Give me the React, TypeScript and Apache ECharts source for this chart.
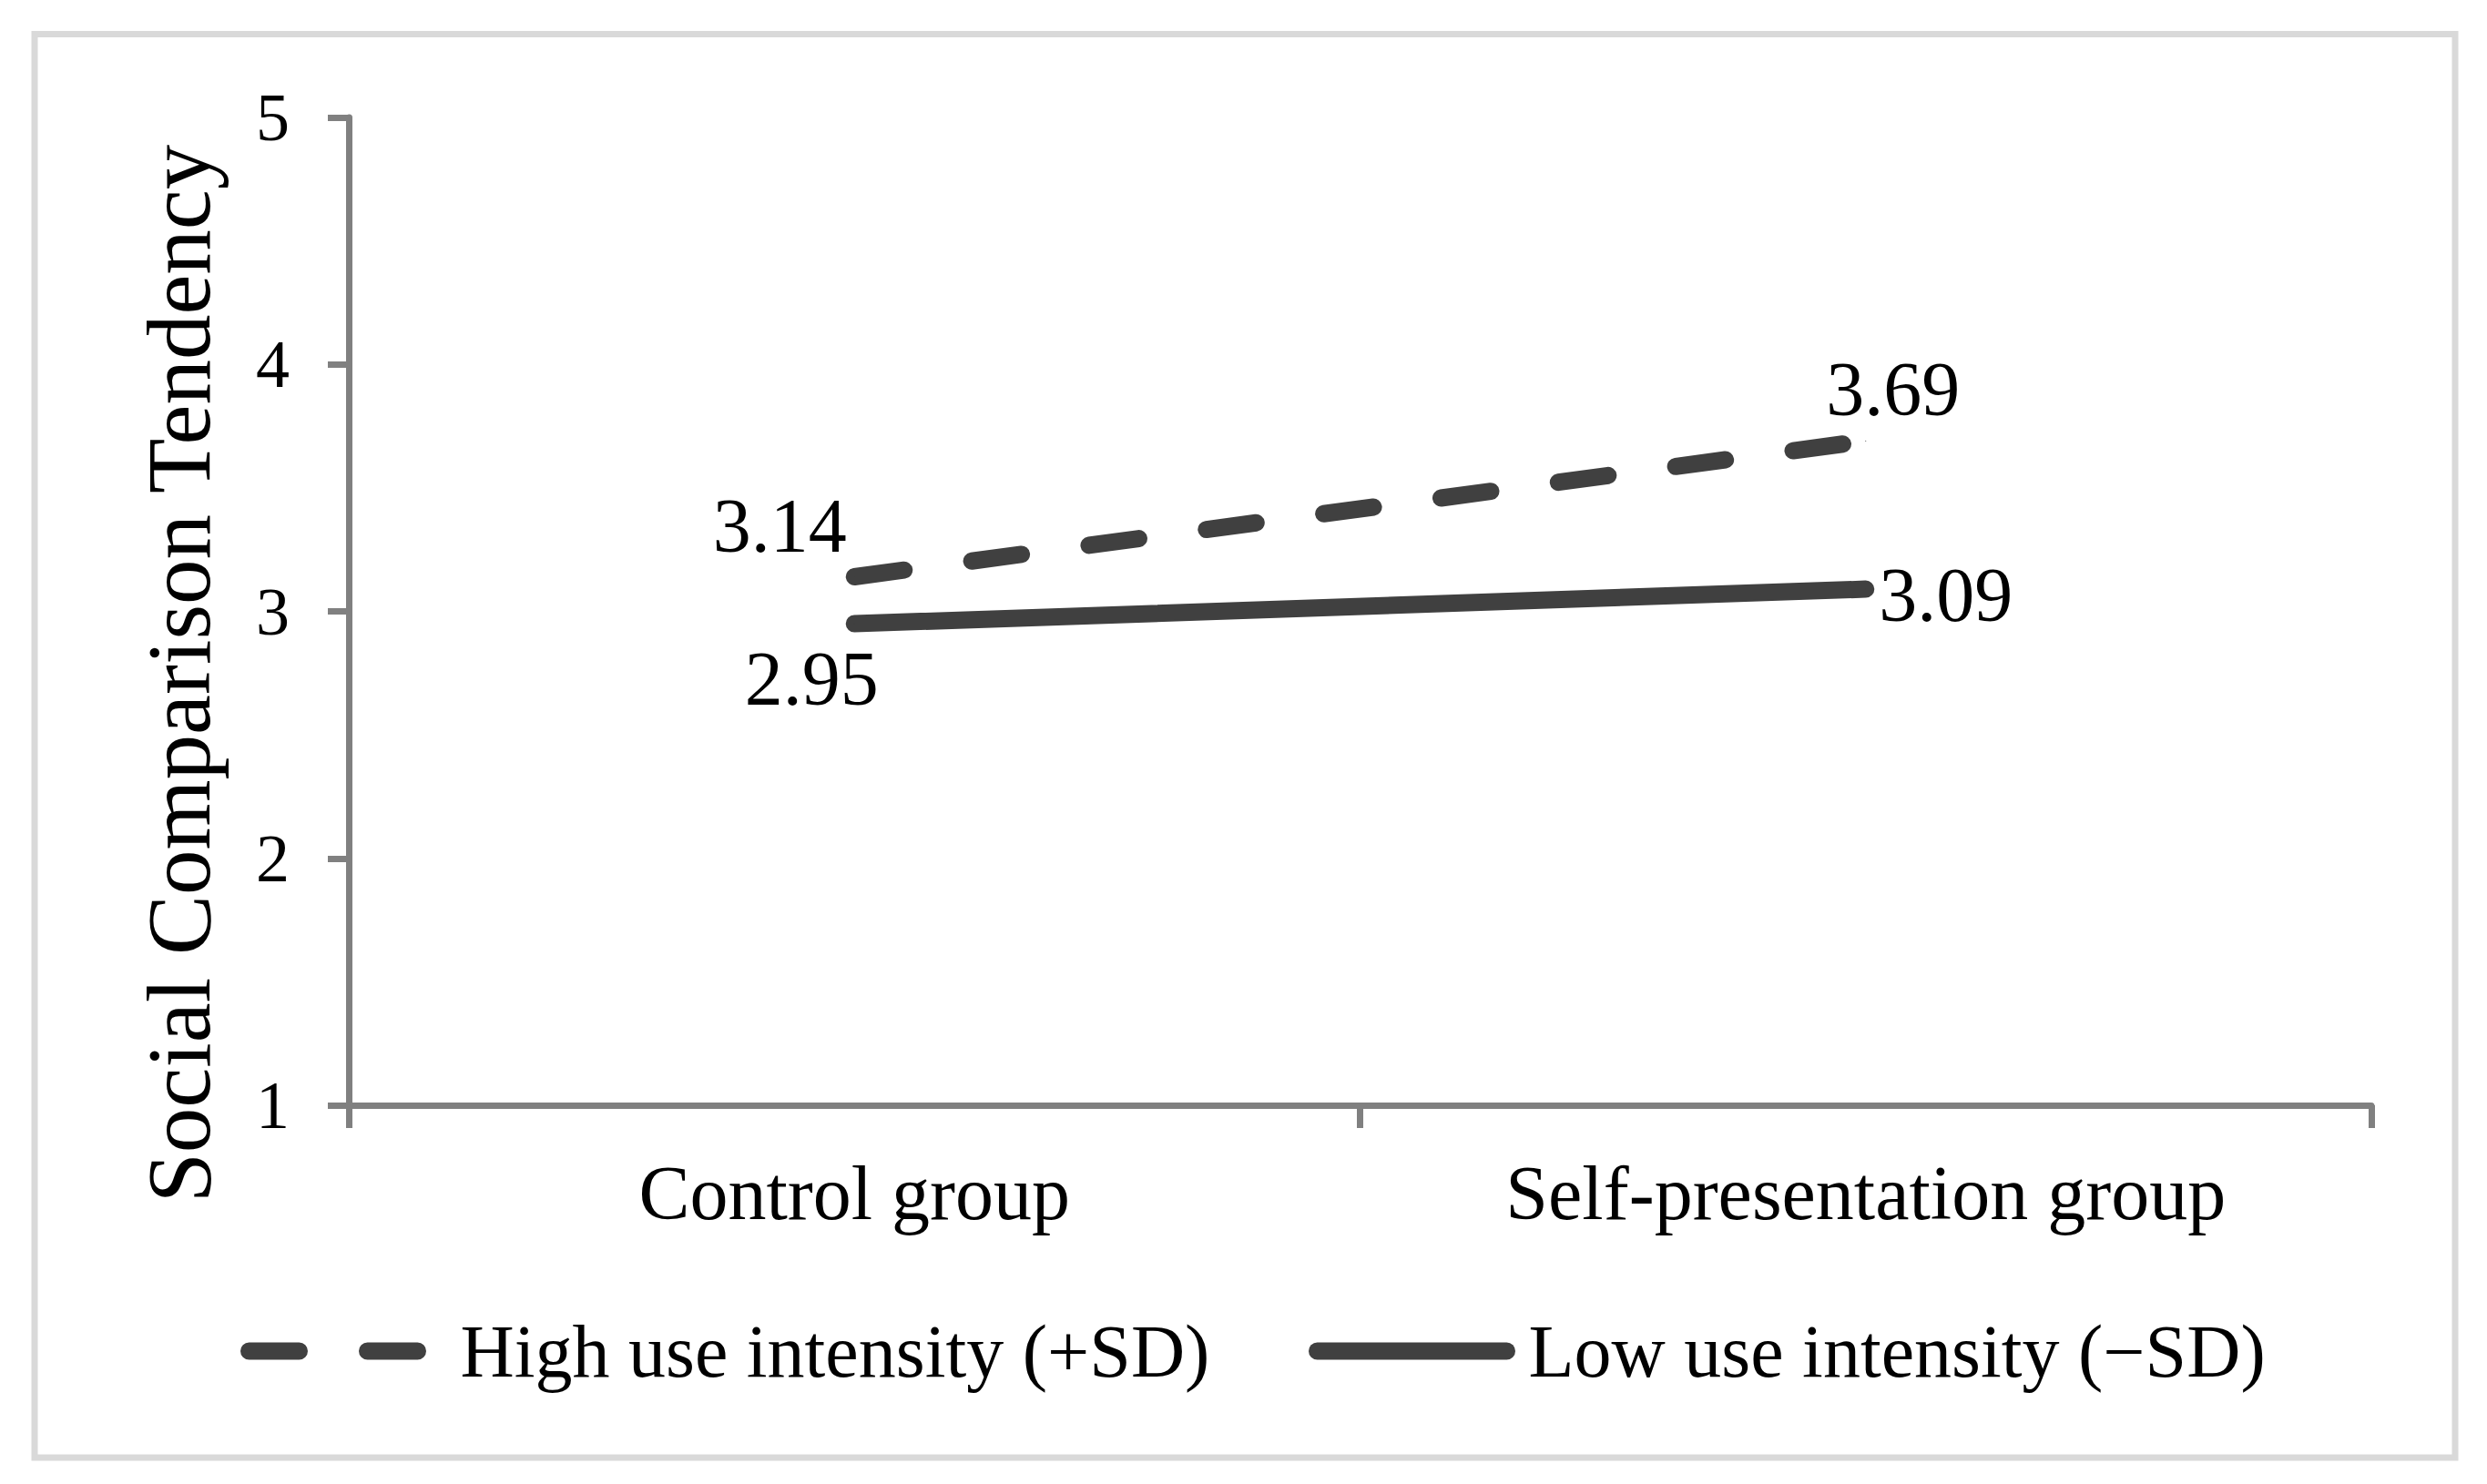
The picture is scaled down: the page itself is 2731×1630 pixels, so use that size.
import React, { useEffect, useRef } from "react";
import * as echarts from "echarts";

const categories = ["Control group", "Self-presentation group"];
const highSeriesName = "High use intensity (+SD)";
const lowSeriesName = "Low use intensity (\u2212SD)";
const highValues = [3.14, 3.69];
const lowValues = [2.95, 3.09];
const yMin = 1;
const yMax = 5;
const yInterval = 1;
const yAxisTitle = "Social Comparison Tendency";

// label placement (styling only)
const highLabelOffsets = [
  [-82, -56],
  [30, -57],
];
const lowLabelOffsets = [
  [-47, 60],
  [88, 6],
];

const FONT = "'Liberation Serif', 'Times New Roman', serif";
const LINE_COLOR = "#404040";
const AXIS_COLOR = "#808080";

export default function App() {
  const ref = useRef<HTMLDivElement>(null);

  useEffect(() => {
    if (!ref.current) return;
    const chart = echarts.init(ref.current, undefined, { renderer: "svg" });

    const makeData = (vals: number[], offs: number[][]) =>
      vals.map((v, i) => ({
        value: v,
        label: {
          show: true,
          position: "inside",
          offset: offs[i],
          align: "center",
          verticalAlign: "middle",
          color: "#000",
          fontFamily: FONT,
          fontSize: 84,
        },
      }));

    const legendCommon = {
      orient: "horizontal",
      itemWidth: 208,
      itemHeight: 20,
      selectedMode: false,
      textStyle: {
        color: "#000",
        fontFamily: FONT,
        fontSize: 82,
        padding: [0, 0, 0, 19],
      },
      itemStyle: { opacity: 0 },
      lineStyle: { width: 19, cap: "round" },
    };

    chart.setOption({
      animation: false,
      backgroundColor: "#ffffff",
      grid: {
        left: 383,
        right: 127,
        top: 129,
        bottom: 416,
        containLabel: false,
      },
      legend: [
        {
          ...legendCommon,
          data: [highSeriesName],
          left: 259,
          top: 1438,
        },
        {
          ...legendCommon,
          data: [lowSeriesName],
          left: 1432,
          top: 1438,
        },
      ],
      xAxis: {
        type: "category",
        data: categories,
        boundaryGap: true,
        axisLine: { lineStyle: { color: AXIS_COLOR, width: 7 } },
        axisTick: {
          show: true,
          length: 25,
          lineStyle: { color: AXIS_COLOR, width: 7 },
        },
        axisLabel: {
          color: "#000",
          fontFamily: FONT,
          fontSize: 84,
          margin: 54,
        },
        splitLine: { show: false },
      },
      yAxis: {
        type: "value",
        min: yMin,
        max: yMax,
        interval: yInterval,
        axisLine: { show: true, lineStyle: { color: AXIS_COLOR, width: 7 } },
        axisTick: {
          show: true,
          length: 23,
          lineStyle: { color: AXIS_COLOR, width: 7 },
        },
        axisLabel: {
          color: "#000",
          fontFamily: FONT,
          fontSize: 74,
          margin: 65,
        },
        splitLine: { show: false },
      },
      graphic: [
        {
          type: "rect",
          shape: { x: 38, y: 37.5, width: 2658, height: 1563.5 },
          style: { fill: "none", stroke: "#d9d9d9", lineWidth: 7 },
          silent: true,
        },
        {
          type: "text",
          x: 196,
          y: 740,
          rotation: Math.PI / 2,
          style: {
            text: yAxisTitle,
            fill: "#000",
            font: `99px ${FONT}`,
            textAlign: "center",
            textVerticalAlign: "middle",
          },
          silent: true,
        },
      ],
      series: [
        {
          name: highSeriesName,
          type: "line",
          data: makeData(highValues, highLabelOffsets),
          symbol: "circle",
          symbolSize: 1,
          itemStyle: { color: LINE_COLOR },
          lineStyle: {
            color: LINE_COLOR,
            width: 19,
            type: [55, 75],
            cap: "round",
          },
          z: 3,
        },
        {
          name: lowSeriesName,
          type: "line",
          data: makeData(lowValues, lowLabelOffsets),
          symbol: "circle",
          symbolSize: 1,
          itemStyle: { color: LINE_COLOR },
          lineStyle: {
            color: LINE_COLOR,
            width: 19,
            type: "solid",
            cap: "round",
          },
          z: 3,
        },
      ],
    });

    return () => {
      chart.dispose();
    };
  }, []);

  return (
    <div
      ref={ref}
      style={{
        position: "fixed",
        left: 0,
        top: 0,
        width: 2731,
        height: 1630,
        background: "#fff",
      }}
    />
  );
}
